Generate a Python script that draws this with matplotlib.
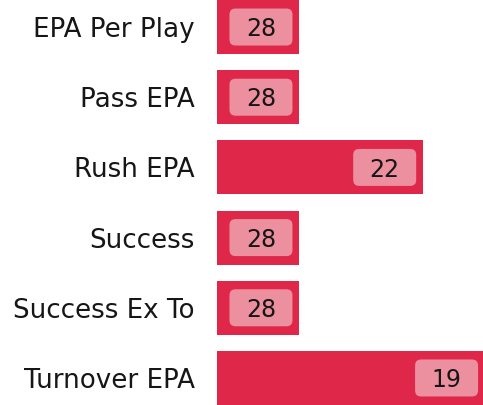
import matplotlib
matplotlib.use("Agg")
import matplotlib.pyplot as plt
from matplotlib.patches import FancyBboxPatch

plt.rcParams["font.family"] = ["DejaVu Sans"]

# team ranks (out of 32) for each metric
metrics = ["EPA Per Play", "Pass EPA", "Rush EPA", "Success", "Success Ex To", "Turnover EPA"]
ranks = [28, 28, 22, 28, 28, 19]
n_teams = 32

bar_color = "#DE2749"
badge_color = "#EC8F9F"
text_color = "#161616"

W, H, DPI = 483, 405, 100
fig = plt.figure(figsize=(W / DPI, H / DPI), dpi=DPI)
left_px = 217
ax = fig.add_axes([left_px / W, 0, 1 - left_px / W, 1])

bar_h = 0.77
xmax = 12.9
widths = [n_teams - r for r in ranks]
ys = list(range(len(metrics)))
ax.barh(ys, widths, height=bar_h, color=bar_color, edgecolor="none")
ax.set_xlim(0, xmax)
ax.set_ylim(len(metrics) - 1 + bar_h / 2, -bar_h / 2)

# pixels per data unit
px_x = (W - left_px) / xmax
px_y = H / (len(metrics) - 1 + bar_h)

badge_w = 63 / px_x
badge_h = 37 / px_y
gap = 7 / px_x
rad = 6 / px_x
for y, w, r in zip(ys, widths, ranks):
    x1 = w - gap
    x0 = x1 - badge_w
    patch = FancyBboxPatch(
        (x0 + rad, y - badge_h / 2 + rad * px_x / px_y),
        badge_w - 2 * rad,
        badge_h - 2 * rad * px_x / px_y,
        boxstyle="round,pad=%f" % rad,
        mutation_aspect=px_x / px_y,
        facecolor=badge_color,
        edgecolor="none",
    )
    ax.add_patch(patch)
    ax.text(x0 + badge_w / 2, y + 0.03, str(r), ha="center", va="center",
            fontsize=17, color=text_color)

ax.set_yticks(ys)
ax.set_yticklabels(metrics, fontsize=18.8, color=text_color)
for lbl in ax.get_yticklabels():
    lbl.set_va("center_baseline")
ax.tick_params(axis="y", length=0, pad=16)
ax.set_xticks([])
for s in ax.spines.values():
    s.set_visible(False)

fig.savefig("out.png", dpi=DPI, facecolor="white")
